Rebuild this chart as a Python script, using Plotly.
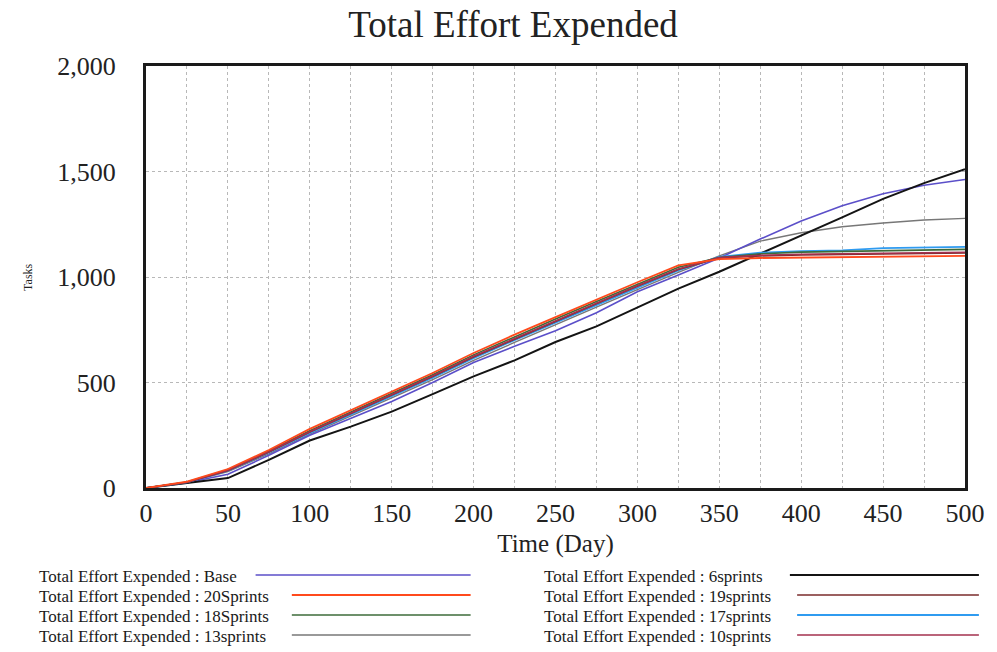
import plotly.graph_objects as go

# ---------------- data ----------------
days = [0, 25, 50, 75, 100, 125, 150, 175, 200, 225, 250, 275, 300, 325, 350, 375, 400, 425, 450, 475, 500]

base = [0, 25, 65, 155, 250, 330, 410, 500, 595, 672, 745, 831, 930, 1010, 1090, 1180, 1265, 1338, 1395, 1435, 1462]
s20 = [0, 30, 90, 180, 280, 368, 457, 545, 640, 727, 810, 893, 975, 1055, 1085, 1090, 1092, 1094, 1096, 1098, 1100]
s18 = [0, 28, 86, 175, 272, 360, 449, 537, 631, 717, 801, 884, 966, 1046, 1092, 1110, 1118, 1122, 1126, 1128, 1131]
s13 = [0, 26, 78, 162, 255, 340, 427, 514, 605, 690, 775, 857, 940, 1022, 1100, 1170, 1210, 1238, 1256, 1270, 1278]
s6 = [0, 25, 47, 133, 225, 291, 362, 445, 529, 605, 692, 766, 855, 945, 1025, 1110, 1195, 1283, 1370, 1445, 1511]
s19 = [0, 27, 83, 170, 265, 352, 440, 528, 621, 706, 791, 873, 956, 1036, 1090, 1100, 1105, 1108, 1110, 1112, 1114]
s17 = [0, 27, 82, 168, 261, 347, 435, 523, 615, 701, 785, 867, 949, 1031, 1095, 1115, 1122, 1126, 1137, 1140, 1143]
s10 = [0, 27, 84, 172, 267, 354, 442, 531, 624, 709, 794, 876, 958, 1038, 1092, 1103, 1108, 1111, 1113, 1115, 1117]

series_names = ["Base", "20Sprints", "18Sprints", "13sprints", "6sprints", "19sprints", "17sprints", "10sprints"]
series_values = [base, s20, s18, s13, s6, s19, s17, s10]
series_colors = ["#5b4fc9", "#ff4a1c", "#3d6b3a", "#777777", "#141414", "#7a2b2b", "#2f9bf0", "#a3304e"]
series_widths = [1.6, 1.8, 1.6, 1.4, 2.0, 1.6, 1.8, 1.6]

x_tick_vals = [0, 25, 50, 75, 100, 125, 150, 175, 200, 225, 250, 275, 300, 325, 350, 375, 400, 425, 450, 475, 500]
x_tick_text = ["0", "", "50", "", "100", "", "150", "", "200", "", "250", "", "300", "", "350", "", "400", "", "450", "", "500"]
y_tick_vals = [0, 500, 1000, 1500, 2000]
y_tick_text = ["0", "500", "1,000", "1,500", "2,000"]

title_text = "Total Effort Expended"
x_title = "Time (Day)"
y_title = "Tasks"
legend_prefix = "Total Effort Expended : "

# ---------------- layout constants ----------------
W, H = 997, 652
L, R, T, B = 146, 971, 66, 488
FONT = "Liberation Serif, Times New Roman, serif"

def xp(px):
    return (px - L) / (R - L)

def yp(py):
    return (B - py) / (B - T)

fig = go.Figure()
draw_order = [3, 0, 4, 6, 2, 5, 7, 1]
for i in draw_order:
    fig.add_trace(go.Scatter(
        x=days, y=series_values[i], mode="lines",
        name=legend_prefix + series_names[i],
        line=dict(color=series_colors[i], width=series_widths[i]),
        showlegend=False,
    ))

fig.update_layout(
    width=W, height=H,
    margin=dict(l=L, r=W - R, t=T, b=H - B),
    paper_bgcolor="white", plot_bgcolor="white",
    font=dict(family=FONT, color="#222222"),
    title=dict(text=title_text, x=513 / W, xref="container", xanchor="center",
               y=1 - 24 / H, yref="container", yanchor="middle",
               font=dict(size=37, family=FONT, color="#222222")),
    xaxis=dict(range=[0, 500], tickvals=x_tick_vals, ticktext=x_tick_text,
               showgrid=True, gridcolor="#b8b8b8", griddash="dot", gridwidth=1,
               showline=True, linecolor="#1a1a1a", linewidth=3, mirror=True,
               ticks="", zeroline=False,
               tickfont=dict(size=26, family=FONT, color="#222222"),
               title=dict(text=x_title, font=dict(size=25, family=FONT, color="#222222"), standoff=8)),
    yaxis=dict(range=[0, 2000], tickvals=y_tick_vals, ticktext=y_tick_text,
               showgrid=True, gridcolor="#b8b8b8", griddash="dot", gridwidth=1,
               showline=True, linecolor="#1a1a1a", linewidth=3, mirror=True,
               ticks="", zeroline=False, ticklabelstandoff=22,
               tickfont=dict(size=26, family=FONT, color="#222222")),
)

fig.add_annotation(text=y_title, xref="paper", yref="paper", x=xp(18), y=yp(277),
                   showarrow=False, textangle=-90, font=dict(size=12, family=FONT, color="#222222"))

# manual legend: text followed by line sample, two columns of four
col_text_x = [36, 545]
col_line_end = [473, 985]
row_y = [576, 596, 616, 636]
char_w = 7.3
for k, i in enumerate(range(len(series_names))):
    col = k // 4
    row = k % 4
    label = legend_prefix + series_names[i]
    tx = col_text_x[col]
    ty = row_y[row]
    fig.add_annotation(text=label, xref="paper", yref="paper", x=xp(tx), y=yp(ty),
                       xanchor="left", yanchor="middle", showarrow=False,
                       font=dict(size=17, family=FONT, color="#1a1a1a"))
    x0 = tx + len(label) * char_w + 16
    fig.add_shape(type="line", xref="paper", yref="paper",
                  x0=xp(x0), x1=xp(col_line_end[col]), y0=yp(ty - 1), y1=yp(ty - 1),
                  line=dict(color=series_colors[i], width=series_widths[i]))

fig.write_html("out.html")
